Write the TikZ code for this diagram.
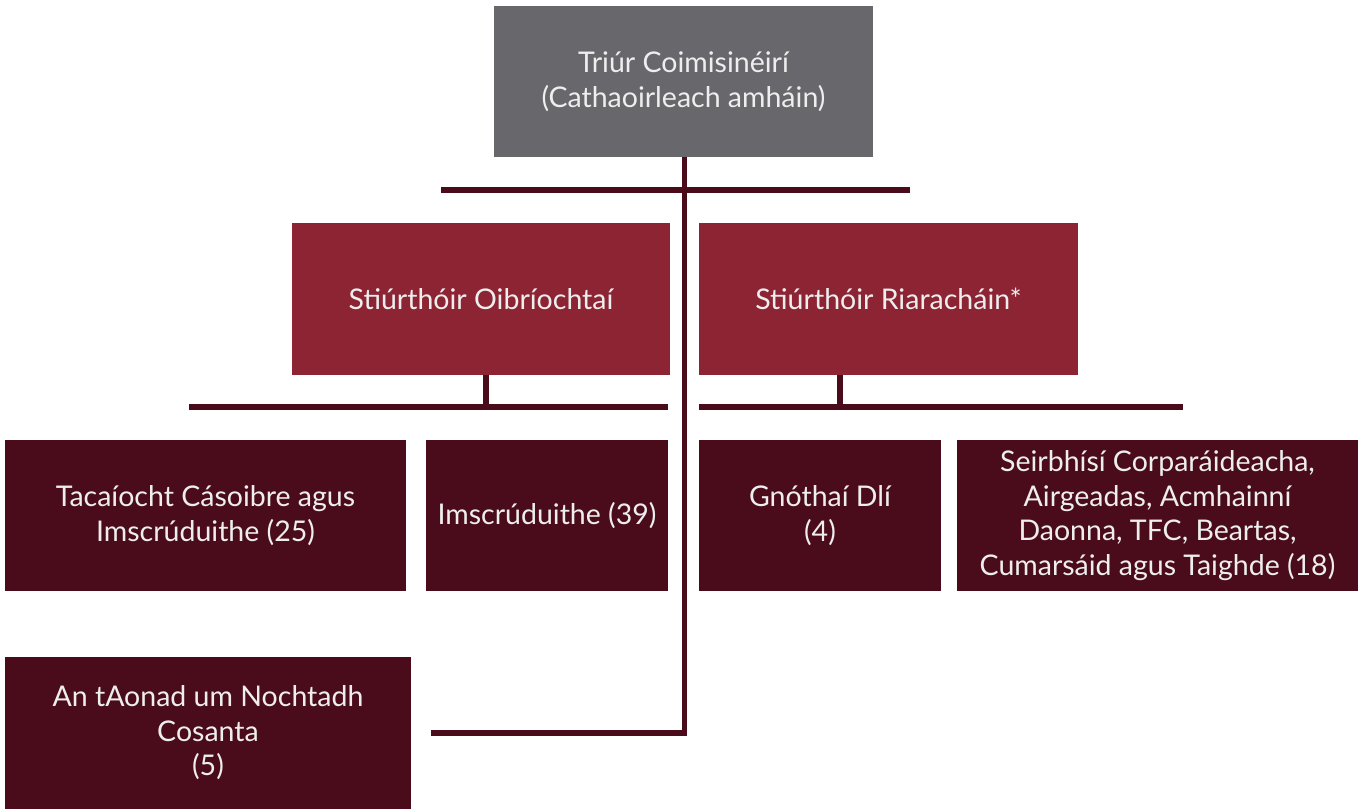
\documentclass[tikz,border=0pt]{standalone}
\usepackage{fontspec}
\setmainfont{Lato}
\definecolor{topgray}{HTML}{67676C}
\definecolor{dirred}{HTML}{8C2433}
\definecolor{unitdark}{HTML}{4A0C1B}
\definecolor{txtcol}{HTML}{EEEEEE}
\begin{document}
\begin{tikzpicture}[x=1pt,y=-1pt,
  box/.style={rectangle, inner sep=0pt, text=txtcol, align=center, font=\fontsize{28.5}{34.5}\selectfont},
  topbox/.style={box, fill=topgray, minimum width=379pt, minimum height=151pt},
  redbox/.style={box, fill=dirred, minimum height=152pt},
  unitbox/.style={box, fill=unitdark, minimum height=151pt},
  conn/.style={draw=unitdark, line width=5.5pt}]
\useasboundingbox (0,0) rectangle (1363,809);
\fill[white] (0,0) rectangle (1363,809);
% boxes
\node[topbox] (top) at (683.5,81.5) {Triúr Coimisinéirí\\(Cathaoirleach amháin)};
\node[redbox, minimum width=378pt] (ops) at (481,299) {Stiúrthóir Oibríochtaí};
\node[redbox, minimum width=379pt] (reg) at (888.5,299) {Stiúrthóir Riaracháin*};
\node[unitbox, minimum width=401pt] (u1) at (205.5,515.5) {Tacaíocht Cásoibre agus\\Imscrúduithe (25)};
\node[unitbox, minimum width=242pt] (u2) at (547,515.5) {Imscrúduithe (39)};
\node[unitbox, minimum width=242pt] (u3) at (820,515.5) {Gnóthaí Dlí\\(4)};
\node[unitbox, minimum width=401pt] (u4) at (1157.5,515.5) {Seirbhísí Corparáideacha,\\Airgeadas, Acmhainní\\Daonna, TFC, Beartas,\\Cumarsáid agus Taighde (18)};
\node[unitbox, minimum width=406pt, minimum height=152pt] (u5) at (208,733) {An tAonad um Nochtadh\\Cosanta\\(5)};
% coordinates
\coordinate (tbl) at (441,190);
\coordinate (tbr) at (910,190);
\coordinate (j1) at (486,407);
\coordinate (b1l) at (189,407);
\coordinate (b1r) at (668,407);
\coordinate (j2) at (840,407);
\coordinate (b2l) at (699,407);
\coordinate (b2r) at (1183,407);
\coordinate (mainbot) at (684.5,733);
\coordinate (lowend) at (431,733);
% connectors
\draw[conn] (tbl) -- (tbr);
\draw[conn] (ops.south -| j1) -- (j1);
\draw[conn] (b1l) -- (b1r);
\draw[conn] (reg.south -| j2) -- (j2);
\draw[conn] (b2l) -- (b2r);
\draw[conn] (top.south -| mainbot) -- (mainbot) -- (lowend);
\end{tikzpicture}
\end{document}
